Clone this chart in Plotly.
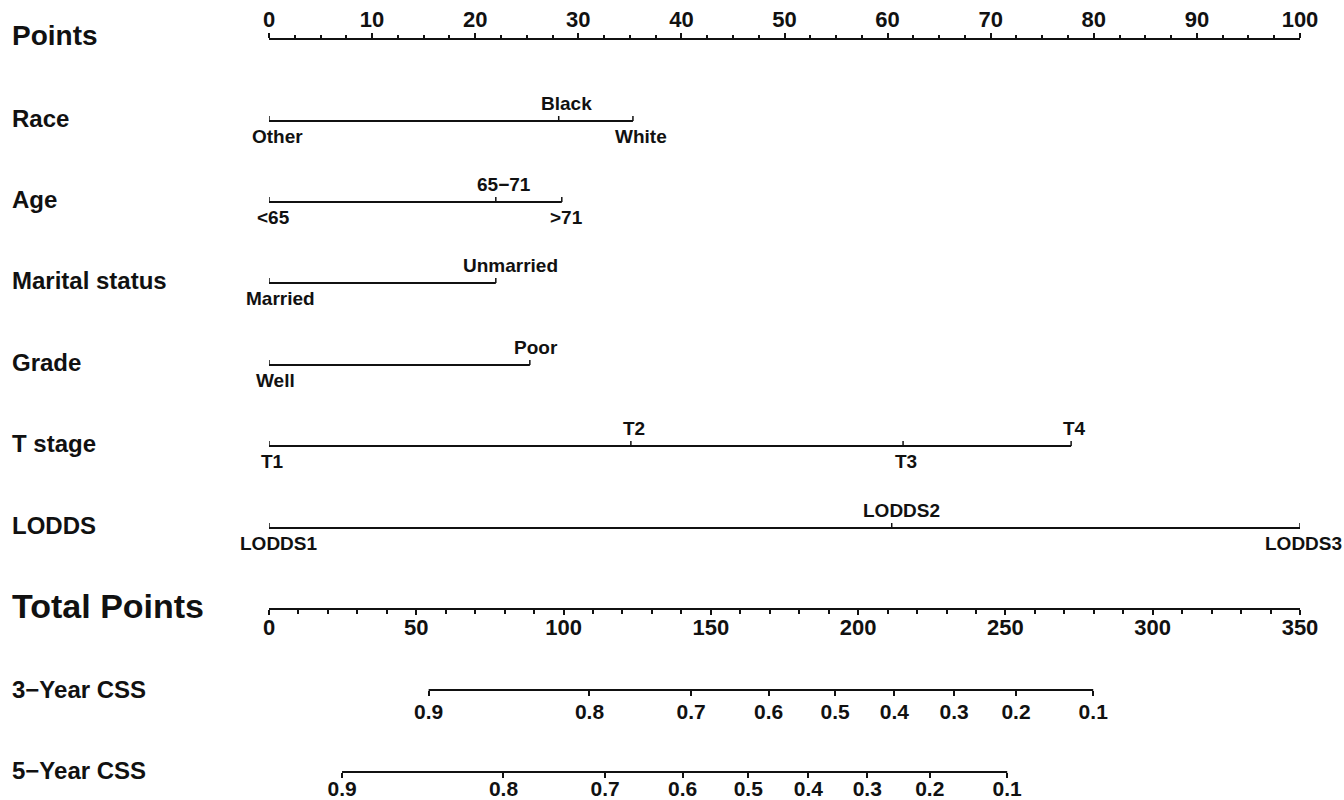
import plotly.graph_objects as go

# ---------------- data ----------------
points_range = [0, 100]
total_range = [0, 350]

row_names = ["Race", "Age", "Marital status", "Grade", "T stage", "LODDS"]

race_levels = ["Other", "Black", "White"]
race_points = [0, 28.1, 35.3]

age_levels = ["<65", "65\u221271", ">71"]
age_points = [0, 22.0, 28.4]

marital_levels = ["Married", "Unmarried"]
marital_points = [0, 22.0]

grade_levels = ["Well", "Poor"]
grade_points = [0, 25.3]

tstage_levels = ["T1", "T2", "T3", "T4"]
tstage_points = [0, 35.1, 61.5, 77.8]

lodds_levels = ["LODDS1", "LODDS2", "LODDS3"]
lodds_points = [0, 60.4, 100]

css_labels = ["0.9", "0.8", "0.7", "0.6", "0.5", "0.4", "0.3", "0.2", "0.1"]
css3_total = [54.2, 108.8, 143.3, 169.6, 192.2, 212.3, 232.6, 253.6, 279.8]
css5_total = [24.8, 79.6, 114.1, 140.4, 162.7, 183.1, 203.1, 224.3, 250.6]

# ---------------- layout constants ----------------
W, H = 1344, 800
X0, X1 = 269, 1300
FONT = "Liberation Sans, Arial, Helvetica, sans-serif"
BLACK = "#111111"
LABEL_SIZE = 19

row_levels = [race_levels, age_levels, marital_levels, grade_levels, tstage_levels, lodds_levels]
row_points = [race_points, age_points, marital_points, grade_points, tstage_points, lodds_points]
row_y = [121, 202, 283, 365, 446, 528]

Y_POINTS = 39
Y_TOTAL = 609
Y_CSS3 = 690
Y_CSS5 = 772

fig = go.Figure()
annotations = []

def bold(size):
    return dict(family=FONT, size=size, color=BLACK, weight="bold")

def pts_to_px(p):
    return X0 + (p - points_range[0]) / (points_range[1] - points_range[0]) * (X1 - X0)

# variable rows
for name, levels, pts, y in zip(row_names, row_levels, row_points, row_y):
    fig.add_trace(go.Scatter(x=[min(pts), max(pts)], y=[y, y], mode="lines",
                             line=dict(color=BLACK, width=2), hoverinfo="skip",
                             showlegend=False, xaxis="x", yaxis="y"))
    tx, ty = [], []
    for p in pts:
        tx += [p, p, None]
        ty += [y, y - 5, None]
    fig.add_trace(go.Scatter(x=tx, y=ty, mode="lines", line=dict(color=BLACK, width=1.5),
                             hoverinfo="skip", showlegend=False, xaxis="x", yaxis="y"))
    order = sorted(range(len(pts)), key=lambda i: pts[i])
    for k, i in enumerate(order):
        above = k % 2 == 1
        txt = levels[i]
        shift = 1.6 * len(txt)
        half = 0.34 * LABEL_SIZE * len(txt)
        right_limit = W - 2
        if pts_to_px(pts[i]) + shift + half > right_limit:
            shift = right_limit - half - pts_to_px(pts[i])
        annotations.append(dict(x=pts[i], y=(y - 18) if above else (y + 15), xref="x", yref="y",
                                text=txt, showarrow=False, xanchor="center", yanchor="middle",
                                xshift=shift, font=bold(LABEL_SIZE)))
    annotations.append(dict(x=10 / W, y=y - 3, xref="paper", yref="y", text=name, showarrow=False,
                            xanchor="left", yanchor="middle", font=bold(24)))

# left titles for scale rows
for txt, yy, sz in [("Points", 35, 28), ("Total Points", 606, 34),
                    ("3\u2212Year CSS", 689, 24), ("5\u2212Year CSS", 770, 24)]:
    annotations.append(dict(x=10 / W, y=yy, xref="paper", yref="y", text=txt, showarrow=False,
                            xanchor="left", yanchor="middle", font=bold(sz)))

# invisible traces to activate scale axes
fig.add_trace(go.Scatter(x=points_range, y=[Y_POINTS, Y_POINTS], mode="markers", marker=dict(opacity=0),
                         hoverinfo="skip", showlegend=False, xaxis="x2", yaxis="y"))
fig.add_trace(go.Scatter(x=total_range, y=[Y_TOTAL, Y_TOTAL], mode="markers", marker=dict(opacity=0),
                         hoverinfo="skip", showlegend=False, xaxis="x3", yaxis="y"))
# CSS axis lines
fig.add_trace(go.Scatter(x=[min(css3_total), max(css3_total)], y=[Y_CSS3, Y_CSS3], mode="lines",
                         line=dict(color=BLACK, width=2), hoverinfo="skip", showlegend=False,
                         xaxis="x4", yaxis="y"))
fig.add_trace(go.Scatter(x=[min(css5_total), max(css5_total)], y=[Y_CSS5, Y_CSS5], mode="lines",
                         line=dict(color=BLACK, width=2), hoverinfo="skip", showlegend=False,
                         xaxis="x5", yaxis="y"))

dom = [X0 / W, X1 / W]
common = dict(showgrid=False, zeroline=False, ticks="outside", tickcolor=BLACK, tickwidth=1.5,
              linecolor=BLACK, linewidth=2, automargin=False)

fig.update_layout(
    width=W, height=H, margin=dict(l=0, r=0, t=0, b=0, pad=0, autoexpand=False),
    paper_bgcolor="white", plot_bgcolor="rgba(0,0,0,0)",
    showlegend=False,
    xaxis=dict(domain=dom, range=points_range, visible=False, automargin=False),
    yaxis=dict(domain=[0, 1], range=[H, 0], visible=False, automargin=False),
    xaxis2=dict(overlaying="x", anchor="free", position=1 - Y_POINTS / H, side="top",
                range=points_range, tickmode="linear", tick0=0, dtick=10, ticklen=5,
                showline=True, ticklabelstandoff=-3, tickfont=bold(22),
                minor=dict(tickmode="linear", tick0=0, dtick=2.5, ticks="outside", ticklen=3,
                           tickwidth=1.5, tickcolor=BLACK),
                **common),
    xaxis3=dict(overlaying="x", anchor="free", position=1 - Y_TOTAL / H, side="bottom",
                range=total_range, tickmode="linear", tick0=0, dtick=50, ticklen=5,
                showline=True, ticklabelstandoff=-6, tickfont=bold(22),
                minor=dict(tickmode="linear", tick0=0, dtick=10, ticks="outside", ticklen=4,
                           tickwidth=1.5, tickcolor=BLACK),
                **common),
    xaxis4=dict(overlaying="x", anchor="free", position=1 - Y_CSS3 / H, side="bottom",
                range=total_range, tickmode="array", tickvals=css3_total, ticktext=css_labels,
                ticklen=5, showline=False, ticklabelstandoff=-2, tickfont=bold(21), **common),
    xaxis5=dict(overlaying="x", anchor="free", position=1 - Y_CSS5 / H, side="bottom",
                range=total_range, tickmode="array", tickvals=css5_total, ticktext=css_labels,
                ticklen=5, showline=False, ticklabelstandoff=-7, tickfont=bold(21), **common),
    annotations=annotations,
)

fig.write_html("out.html", config={"displayModeBar": False},
               post_script="document.body.style.margin='0';document.body.style.overflow='hidden';")
